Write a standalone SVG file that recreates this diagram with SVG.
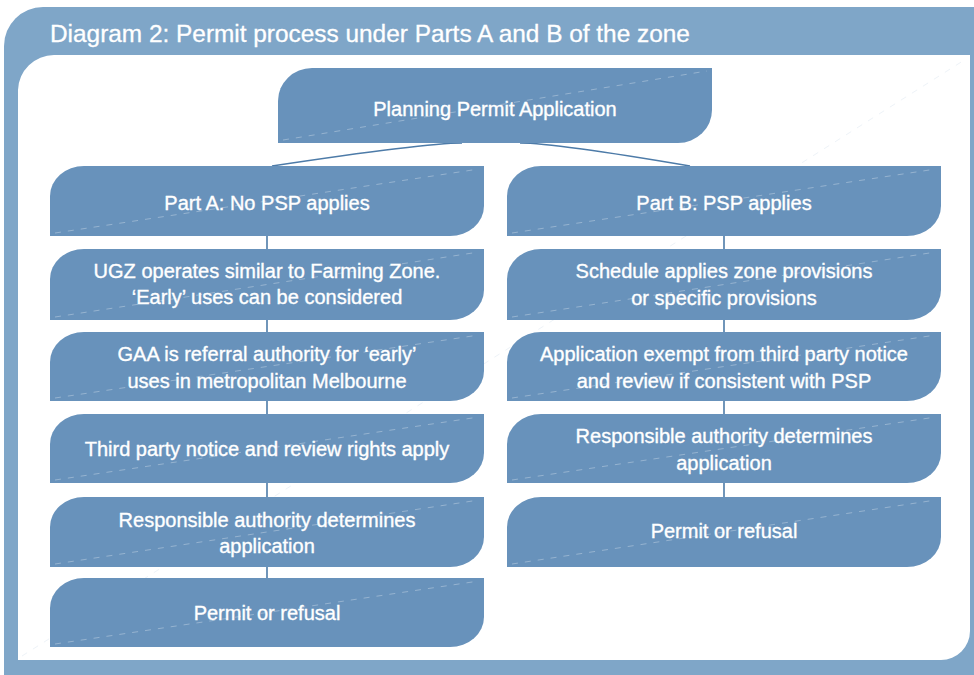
<svg xmlns="http://www.w3.org/2000/svg" width="974" height="675" viewBox="0 0 974 675">
<style>
.box{fill:#6892bb}
.diag{stroke:#ffffff;stroke-opacity:0.3;stroke-width:1;stroke-dasharray:6 7;fill:none}
.t{font-family:"Liberation Sans",Arial,sans-serif;font-size:20px;fill:#ffffff;stroke:#ffffff;stroke-width:0.35;text-anchor:middle}
.conn{stroke:#4d7ba8;stroke-width:1.6;fill:none}
</style>
<rect x="0" y="0" width="974" height="675" fill="#ffffff"/>
<path d="M4,46 A39 39 0 0 1 43,7 L974,7 L974,675 L4,675 Z" fill="#7fa6c8"/>
<path d="M18,90 A36 36 0 0 1 54,55 L970,55 L970,631 A29 29 0 0 1 941,660 L18,660 Z" fill="#ffffff"/>
<line x1="22" y1="656" x2="966" y2="59" stroke="#eef3f8" stroke-width="1" stroke-dasharray="6 7"/>
<text x="50" y="42" style="font-family:'Liberation Sans',Arial,sans-serif;font-size:24.4px;fill:#ffffff;stroke:#ffffff;stroke-width:0.3">Diagram 2: Permit process under Parts A and B of the zone</text>

<g id="connectors">
<path class="conn" d="M462,143 Q425,143 272,166"/>
<path class="conn" d="M520,143 Q555,143 690,166"/>
<line class="conn" x1="267" y1="236" x2="267" y2="249"/>
<line class="conn" x1="267" y1="320" x2="267" y2="332"/>
<line class="conn" x1="267" y1="401" x2="267" y2="414"/>
<line class="conn" x1="267" y1="483" x2="267" y2="497"/>
<line class="conn" x1="267" y1="567" x2="267" y2="578"/>
<line class="conn" x1="724" y1="236" x2="724" y2="249"/>
<line class="conn" x1="724" y1="320" x2="724" y2="332"/>
<line class="conn" x1="724" y1="401" x2="724" y2="414"/>
<line class="conn" x1="724" y1="483" x2="724" y2="497"/>
</g>

<g id="n-planning">
<path class="box" d="M278,101 A34 33 0 0 1 312,68 L712,68 L712,110 A34 33 0 0 1 678,143 L278,143 Z"/>
<line class="diag" x1="283" y1="140" x2="707" y2="71"/>
<text class="t" x="495" y="116">Planning Permit Application</text>
</g>

<g id="n-partA">
<path class="box" d="M50,196 A34 30 0 0 1 84,166 L484,166 L484,206 A34 30 0 0 1 450,236 L50,236 Z"/>
<line class="diag" x1="55" y1="233" x2="479" y2="169"/>
<text class="t" x="267" y="210">Part A: No PSP applies</text>
</g>
<g id="n-ugz">
<path class="box" d="M50,279 A34 30 0 0 1 84,249 L484,249 L484,290 A34 30 0 0 1 450,320 L50,320 Z"/>
<line class="diag" x1="55" y1="317" x2="479" y2="252"/>
<text class="t" x="267" y="278">UGZ operates similar to Farming Zone.</text>
<text class="t" x="267" y="304">‘Early’ uses can be considered</text>
</g>
<g id="n-gaa">
<path class="box" d="M50,362 A34 30 0 0 1 84,332 L484,332 L484,371 A34 30 0 0 1 450,401 L50,401 Z"/>
<line class="diag" x1="55" y1="398" x2="479" y2="335"/>
<text class="t" x="267" y="361">GAA is referral authority for ‘early’</text>
<text class="t" x="267" y="388">uses in metropolitan Melbourne</text>
</g>
<g id="n-third">
<path class="box" d="M50,444 A34 30 0 0 1 84,414 L484,414 L484,453 A34 30 0 0 1 450,483 L50,483 Z"/>
<line class="diag" x1="55" y1="480" x2="479" y2="417"/>
<text class="t" x="267" y="456">Third party notice and review rights apply</text>
</g>
<g id="n-respA">
<path class="box" d="M50,527 A34 30 0 0 1 84,497 L484,497 L484,537 A34 30 0 0 1 450,567 L50,567 Z"/>
<line class="diag" x1="55" y1="564" x2="479" y2="500"/>
<text class="t" x="267" y="527">Responsible authority determines</text>
<text class="t" x="267" y="553">application</text>
</g>
<g id="n-permitA">
<path class="box" d="M50,608 A34 30 0 0 1 84,578 L484,578 L484,617 A34 30 0 0 1 450,647 L50,647 Z"/>
<line class="diag" x1="55" y1="644" x2="479" y2="581"/>
<text class="t" x="267" y="620">Permit or refusal</text>
</g>

<g id="n-partB">
<path class="box" d="M507,196 A34 30 0 0 1 541,166 L941,166 L941,206 A34 30 0 0 1 907,236 L507,236 Z"/>
<line class="diag" x1="512" y1="233" x2="936" y2="169"/>
<text class="t" x="724" y="210">Part B: PSP applies</text>
</g>
<g id="n-schedule">
<path class="box" d="M507,279 A34 30 0 0 1 541,249 L941,249 L941,290 A34 30 0 0 1 907,320 L507,320 Z"/>
<line class="diag" x1="512" y1="317" x2="936" y2="252"/>
<text class="t" x="724" y="278">Schedule applies zone provisions</text>
<text class="t" x="724" y="305">or specific provisions</text>
</g>
<g id="n-exempt">
<path class="box" d="M507,362 A34 30 0 0 1 541,332 L941,332 L941,371 A34 30 0 0 1 907,401 L507,401 Z"/>
<line class="diag" x1="512" y1="398" x2="936" y2="335"/>
<text class="t" x="724" y="361">Application exempt from third party notice</text>
<text class="t" x="724" y="388">and review if consistent with PSP</text>
</g>
<g id="n-respB">
<path class="box" d="M507,444 A34 30 0 0 1 541,414 L941,414 L941,453 A34 30 0 0 1 907,483 L507,483 Z"/>
<line class="diag" x1="512" y1="480" x2="936" y2="417"/>
<text class="t" x="724" y="443">Responsible authority determines</text>
<text class="t" x="724" y="470">application</text>
</g>
<g id="n-permitB">
<path class="box" d="M507,527 A34 30 0 0 1 541,497 L941,497 L941,537 A34 30 0 0 1 907,567 L507,567 Z"/>
<line class="diag" x1="512" y1="564" x2="936" y2="500"/>
<text class="t" x="724" y="538">Permit or refusal</text>
</g>
</svg>
